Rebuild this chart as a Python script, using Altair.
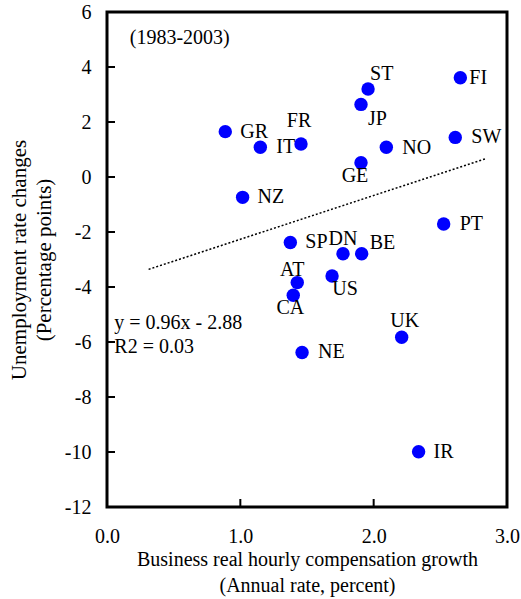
import altair as alt
import pandas as pd

# ---- data ----
countries = ["GR", "IT", "FR", "NZ", "ST", "JP", "FI", "SW", "NO", "GE",
             "PT", "SP", "DN", "BE", "AT", "US", "CA", "UK", "NE", "IR"]
comp_growth = [0.887, 1.150, 1.455, 1.017, 1.958, 1.905, 2.650, 2.612, 2.095, 1.905,
               2.525, 1.375, 1.770, 1.910, 1.427, 1.688, 1.397, 2.210, 1.463, 2.337]
unemp_change = [1.65, 1.08, 1.20, -0.74, 3.20, 2.64, 3.61, 1.44, 1.08, 0.52,
                -1.71, -2.38, -2.79, -2.79, -3.84, -3.60, -4.30, -5.83, -6.38, -9.99]

trend_x = [0.312, 2.837]
trend_y = [-3.36, 0.66]

x_ticks = [0.0, 1.0, 2.0, 3.0]
y_ticks = [-12, -10, -8, -6, -4, -2, 0, 2, 4, 6]

period_text = "(1983-2003)"
equation_lines = ["y = 0.96x - 2.88", "R2 = 0.03"]

# label placement (pixel offsets, align) -- styling only
label_pos = {
    "GR": (15, 0, "left"), "IT": (16, 0, "left"), "NZ": (15, 0, "left"),
    "FI": (9, 0, "left"), "SW": (16, 0, "left"), "NO": (16, 1, "left"),
    "PT": (16, 0, "left"), "SP": (15, 0, "left"), "NE": (16, 0, "left"),
    "IR": (15, 0, "left"), "ST": (2, -15, "left"), "JP": (7, 15, "left"),
    "BE": (8, -11, "left"), "FR": (-2, -23, "center"), "GE": (-6, 13, "center"),
    "DN": (0, -15, "center"), "AT": (-5, -13, "center"), "US": (13, 13, "center"),
    "CA": (-3, 13, "center"), "UK": (3, -16, "center"),
}

FONT = "Liberation Serif"
FS = 20
W, H = 400, 495

df = pd.DataFrame({"country": countries, "x": comp_growth, "y": unemp_change})
trend = pd.DataFrame({"x": trend_x, "y": trend_y})

xscale = alt.Scale(domain=[0, 3], nice=False, zero=False)
yscale = alt.Scale(domain=[-12, 6], nice=False, zero=False)

xaxis = alt.Axis(values=x_ticks, labelExpr="format(datum.value, '.1f')",
                 tickSize=0, domain=False, grid=False, labelPadding=19,
                 labelFlush=False, labelOverlap=False, labelBound=False,
                 title=["Business real hourly compensation growth", "(Annual rate, percent)"],
                 titlePadding=3, titleLineHeight=26)
yaxis = alt.Axis(values=y_ticks, labelExpr="toString(datum.value)",
                 tickSize=0, domain=False, grid=False, labelPadding=16,
                 labelFlush=False, labelOverlap=False, labelBound=False,
                 title=["Unemployment rate changes", "(Percentage points)"],
                 titlePadding=10, titleLineHeight=25, titleFontSize=21)

base = alt.Chart(df)

points = base.mark_circle(size=180, color="#0000FF", opacity=1).encode(
    x=alt.X("x:Q", scale=xscale, axis=xaxis),
    y=alt.Y("y:Q", scale=yscale, axis=yaxis),
)

trend_line = alt.Chart(trend).mark_line(color="black", strokeWidth=1.5, strokeDash=[2, 2]).encode(
    x=alt.X("x:Q", scale=xscale), y=alt.Y("y:Q", scale=yscale))

label_layers = []
for c, (dx, dy, al) in label_pos.items():
    label_layers.append(
        base.transform_filter(alt.datum.country == c).mark_text(
            font=FONT, fontSize=FS, color="black", align=al, baseline="middle", dx=dx, dy=dy
        ).encode(x=alt.X("x:Q", scale=xscale), y=alt.Y("y:Q", scale=yscale), text="country:N")
    )

ann = pd.DataFrame({
    "x": [0.171, 0.055, 0.055],
    "y": [5.05, -5.31, -6.17],
    "t": [period_text] + equation_lines,
})
ann_text = alt.Chart(ann).mark_text(font=FONT, fontSize=FS, color="black", align="left",
                                     baseline="middle").encode(
    x=alt.X("x:Q", scale=xscale), y=alt.Y("y:Q", scale=yscale), text="t:N")

xt = pd.DataFrame({"v": x_ticks[1:-1]})
yt = pd.DataFrame({"v": y_ticks[1:-1]})
xtick_marks = alt.Chart(xt).mark_rule(color="black", strokeWidth=2).encode(
    x=alt.X("v:Q", scale=xscale), y=alt.value(H), y2=alt.value(H - 8))
ytick_marks = alt.Chart(yt).mark_rule(color="black", strokeWidth=2).encode(
    y=alt.Y("v:Q", scale=yscale), x=alt.value(0), x2=alt.value(8))

chart = alt.layer(trend_line, xtick_marks, ytick_marks, points, ann_text, *label_layers).properties(
    width=W, height=H,
    autosize=alt.AutoSizeParams(type="none"),
    padding={"left": 107, "top": 12, "right": 14, "bottom": 92},
    background="white",
).configure_view(stroke="black", strokeWidth=3).configure_axis(
    labelFont=FONT, labelFontSize=FS, labelColor="black",
    titleFont=FONT, titleFontSize=FS, titleFontWeight="normal", titleColor="black",
)

chart.save("out.html", embed_options={"renderer": "svg", "actions": False})
